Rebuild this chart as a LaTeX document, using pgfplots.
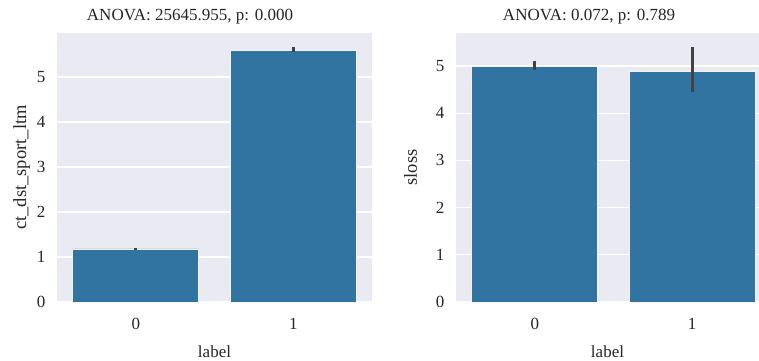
\documentclass[border=0pt]{standalone}
\usepackage{fontspec}
\setmainfont{Liberation Serif}
\usepackage{pgfplots}
\pgfplotsset{compat=1.18}
\definecolor{barblue}{HTML}{3274A1}
\definecolor{bgsea}{HTML}{EAEAF2}
\definecolor{errgray}{HTML}{424242}
\pgfplotsset{
  seab/.style={
    scale only axis,
    width=315pt, height=269pt,
    xmin=-0.5, xmax=1.5, ymin=0,
    axis background/.style={fill=bgsea},
    axis line style={draw=none},
    major tick length=0pt,
    ymajorgrids, grid style={white, line width=1.2pt},
    xtick={0,1}, xticklabels={0,1},
    ytick={0,1,2,3,4,5},
    /pgf/number format/assume math mode=true,
    tick label style={font=\fontsize{17}{20}\selectfont, text=black!85},
    label style={font=\fontsize{17}{20}\selectfont, text=black!85},
    xticklabel style={yshift=-13pt},
    yticklabel style={xshift=-8pt},
    xlabel={label},
    xlabel style={yshift=-9pt},
    ylabel style={yshift=0pt, font=\fontsize{18.5}{20}\selectfont},
    ybar, bar width=0.8,
    clip=false,
  }
}
\begin{document}
\begin{tikzpicture}[x=1pt,y=1pt]
\useasboundingbox (0,0) rectangle (759,360);
\begin{axis}[seab, at={(57pt,58pt)}, anchor=south west, ymax=5.98,
  ylabel={ct\_dst\_sport\_ltm}]
\addplot[fill=barblue, draw=bgsea!60!white, line width=0.6pt,
  error bars/.cd, y dir=both, y explicit, error mark=none,
  error bar style={line width=2.7pt, errgray}]
  coordinates {(0,1.18) +- (0,0.03) (1,5.60) += (0,0.07) -= (0,0.05)};
\end{axis}
\begin{axis}[seab, at={(456pt,58pt)}, anchor=south west, ymax=5.70,
  width=303pt, xmax=1.424, ylabel={sloss}, ylabel style={yshift=12pt}]
\addplot[fill=barblue, draw=bgsea!60!white, line width=0.6pt,
  error bars/.cd, y dir=both, y explicit, error mark=none,
  error bar style={line width=2.7pt, errgray}]
  coordinates {(0,5.00) += (0,0.10) -= (0,0.08) (1,4.89) += (0,0.51) -= (0,0.44)};
\end{axis}
\node[font=\fontsize{17}{20}\selectfont, text=black!85] at (190,343) {ANOVA: 25645.955, p: 0.000};
\node[font=\fontsize{17}{20}\selectfont, text=black!85] at (589,343) {ANOVA: 0.072, p: 0.789};
\end{tikzpicture}
\end{document}
